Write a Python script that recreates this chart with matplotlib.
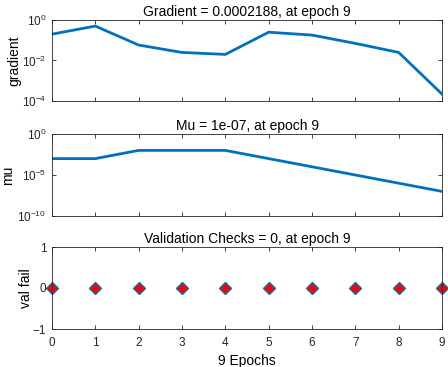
import matplotlib.pyplot as plt
import numpy as np

plt.rcParams['font.family'] = ['Liberation Sans', 'DejaVu Sans']
plt.rcParams['mathtext.fontset'] = 'custom'
plt.rcParams['mathtext.rm'] = 'Liberation Sans'
plt.rcParams['mathtext.it'] = 'Liberation Sans'

epochs = [0, 1, 2, 3, 4, 5, 6, 7, 8, 9]
gradient = [0.2, 0.5, 0.058, 0.025, 0.02, 0.25, 0.18, 0.07, 0.025, 0.0002188]
mu = [1e-3, 1e-3, 1e-2, 1e-2, 1e-2, 1e-3, 1e-4, 1e-5, 1e-6, 1e-7]
val_fail = [0, 0, 0, 0, 0, 0, 0, 0, 0, 0]

blue = (0, 0.447, 0.741)
edge = (0.15, 0.15, 0.15)

fig = plt.figure(figsize=(4.48, 3.67), dpi=100)
W, H = 448, 367
rects = [(52, 20, 390, 81), (52, 134, 390, 82), (52, 247, 390, 82)]
axes = [fig.add_axes([x / W, 1 - (y + h) / H, w / W, h / H]) for x, y, w, h in rects]

for ax in axes:
    ax.set_xlim(0, 9)
    ax.set_xticks(epochs)
    ax.tick_params(direction='in', top=True, right=True, labelsize=8.5,
                   colors=edge, length=3, width=0.6, pad=4)
    ax.tick_params(axis='x', pad=6)
    ax.tick_params(which='minor', length=0)
    for s in ax.spines.values():
        s.set_color(edge)
        s.set_linewidth(0.6)

ax = axes[0]
ax.semilogy(epochs, gradient, color=blue, lw=2)
ax.set_ylim(1e-4, 1)
ax.set_yticks([1e-4, 1e-2, 1])
ax.set_xticklabels([])
ax.set_ylabel('gradient', fontsize=10)
ax.yaxis.set_label_coords((21 - 52) / 390, 0.5)
ax.set_title('Gradient = 0.0002188, at epoch 9', fontsize=10, pad=3)

ax = axes[1]
ax.semilogy(epochs, mu, color=blue, lw=2)
ax.set_ylim(1e-10, 1)
ax.set_yticks([1e-10, 1e-5, 1])
ax.set_xticklabels([])
ax.set_ylabel('mu', fontsize=10)
ax.yaxis.set_label_coords((15 - 52) / 390, 0.5)
ax.set_title('Mu = 1e-07, at epoch 9', fontsize=10, pad=3)

ax = axes[2]
ax.plot(epochs, val_fail, linestyle='none', marker='D', markersize=6,
        markerfacecolor='red', markeredgecolor=blue, markeredgewidth=1.0, clip_on=False)
ax.set_ylim(-1, 1)
ax.set_yticks([-1, 0, 1])
ax.set_ylabel('val fail', fontsize=10)
ax.yaxis.set_label_coords((33 - 52) / 390, 0.5)
ax.set_xlabel('9 Epochs', fontsize=10, labelpad=3)
ax.set_title('Validation Checks = 0, at epoch 9', fontsize=10, pad=3)

fig.savefig('out.png', dpi=100)
